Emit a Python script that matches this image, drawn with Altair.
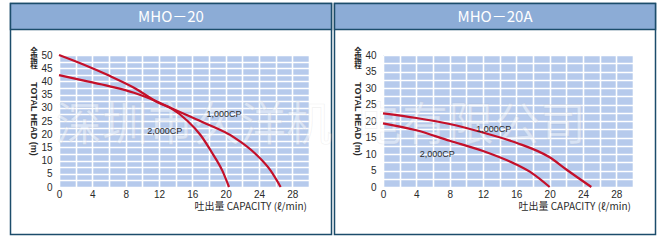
import altair as alt
import pandas as pd

# ---------------- data ----------------
panel_titles = ["MHO－20", "MHO－20A"]
x_title = "吐出量  CAPACITY (ℓ/min)"
y_title_cjk = "全\n揚\n程"
y_title_latin = "TOTAL HEAD (m)"

x_grid_values = list(range(0, 31, 2))
x_tick_labels = [0, 4, 8, 12, 16, 20, 24, 28]
y_max = [50, 40]

# MHO-20 curves
mho20_a_x = [0, 3, 6, 9, 12, 13.5, 15.4, 17.0, 18.4, 19.6, 20.4]
mho20_a_y = [50, 46.3, 42.2, 37.6, 31.8, 29.7, 25.1, 19.6, 12.8, 6.2, 0]
mho20_b_x = [0, 3, 6, 9, 12, 13.5, 17.2, 21.0, 23.6, 25.4, 26.6]
mho20_b_y = [42.4, 40.3, 38.2, 35.7, 32.0, 29.8, 24.6, 18.8, 12.5, 6.2, 0]
mho20_label_text = ["1,000CP", "2,000CP"]
mho20_label_x = [19.8, 12.7]
mho20_label_y = [27.7, 21.3]

# MHO-20A curves
mho20a_a_x = [0, 4, 8, 12, 16, 20, 22, 25.0]
mho20a_a_y = [22.3, 20.9, 19.1, 16.5, 13.4, 9.0, 5.3, 0]
mho20a_b_x = [0, 4, 8, 12, 16, 18, 20.0]
mho20a_b_y = [19.3, 17.2, 14.0, 10.9, 6.8, 4.0, 0]
mho20a_label_text = ["1,000CP", "2,000CP"]
mho20a_label_x = [13.3, 6.5]
mho20a_label_y = [17.6, 10.0]

watermark_parts = ["深圳市久洋机", "电有限公司"]

# ---------------- style ----------------
BORDER = "#1c4d6b"
HEADER = "#8cacd6"
CELL = "#b6caec"
RED = "#c4102a"
TXT = "#2a2a2a"
PW, PH = 250, 132
TICK_FONT = "Liberation Sans"


def panel(title, ax, ay, bx, by, lt, lx, ly, ymax, wm_text, wm_x):
    curves = pd.DataFrame({
        "capacity": ax + bx,
        "head": ay + by,
        "curve": ["a"] * len(ax) + ["b"] * len(bx),
    })
    labels = pd.DataFrame({"capacity": lx, "head": ly, "text": lt})
    one = pd.DataFrame({"k": [0]})

    y_grid_values = [i * 2.5 for i in range(int(ymax / 2.5) + 1)]
    xs = alt.Scale(domain=[0, 30], nice=False, zero=False)
    ys = alt.Scale(domain=[0, ymax], nice=False)
    x_axis = alt.Axis(
        values=x_grid_values,
        labelExpr=f"indexof({x_tick_labels}, datum.value) >= 0 ? datum.label : ''",
        format="d", grid=True, gridColor="white", gridWidth=1.6, gridOpacity=1,
        domain=False, ticks=False, title=None, labelFlush=False,
        labelFont=TICK_FONT, labelFontSize=10, labelColor=TXT,
        labelPadding=2, labelOverlap=False,
    )
    y_axis = alt.Axis(
        values=y_grid_values,
        labelExpr="datum.value % 5 == 0 ? datum.label : ''",
        format="d", grid=True, gridColor="white", gridWidth=1.6, gridOpacity=1,
        domain=False, ticks=False, title=None, labelFlush=False,
        labelFont=TICK_FONT, labelFontSize=10, labelColor=TXT,
        labelPadding=7, labelOverlap=False,
    )

    frame = alt.Chart(one).mark_rect(
        fill="white", fillOpacity=0, stroke=BORDER, strokeWidth=1.5
    ).encode(x=alt.value(-48.5), x2=alt.value(272.5), y=alt.value(-51.5), y2=alt.value(179.5))
    band = alt.Chart(one).mark_rect(
        fill=HEADER, stroke=BORDER, strokeWidth=1.5
    ).encode(x=alt.value(-48.5), x2=alt.value(272.5), y=alt.value(-51.5), y2=alt.value(-25.5))
    head_txt = alt.Chart(one).mark_text(
        color="white", fontSize=15, font="Noto Sans CJK JP", align="center", baseline="middle"
    ).encode(x=alt.value(112), y=alt.value(-38), text=alt.value(title))
    ycjk = alt.Chart(one).mark_text(
        color=TXT, fontSize=7.5, lineHeight=7, lineBreak="\n", font="Noto Sans CJK JP",
        fontWeight="bold", align="center", baseline="top"
    ).encode(x=alt.value(-25), y=alt.value(-7), text=alt.value(y_title_cjk))
    ylat = alt.Chart(one).mark_text(
        color=TXT, fontSize=9, font="Liberation Sans", fontWeight="bold", angle=90,
        align="center", baseline="middle"
    ).encode(x=alt.value(-25), y=alt.value(64), text=alt.value(y_title_latin))
    xt = alt.Chart(one).mark_text(
        color=TXT, fontSize=10, font="Noto Sans CJK JP", align="right", baseline="middle"
    ).encode(x=alt.value(248), y=alt.value(152), text=alt.value(x_title))
    wm = alt.Chart(one).mark_text(
        color="white", opacity=0.45, stroke="#9a9a9a", strokeWidth=0.7, strokeOpacity=0.3,
        fontSize=46, font="Noto Sans CJK SC", align="left", baseline="middle"
    ).encode(x=alt.value(wm_x), y=alt.value(71), text=alt.value(wm_text))

    lines = alt.Chart(curves).mark_line(
        color=RED, strokeWidth=2.2, interpolate="monotone"
    ).encode(
        x=alt.X("capacity:Q", scale=xs, axis=x_axis),
        y=alt.Y("head:Q", scale=ys, axis=y_axis),
        detail="curve:N",
    )
    lab = alt.Chart(labels).mark_text(
        color=TXT, fontSize=9, font="Liberation Sans", align="center", baseline="middle"
    ).encode(
        x=alt.X("capacity:Q", scale=xs, axis=x_axis),
        y=alt.Y("head:Q", scale=ys, axis=y_axis),
        text="text:N",
    )

    return alt.layer(frame, band, head_txt, ycjk, ylat, xt, wm, lines, lab).properties(
        width=PW, height=PH
    )


left = panel(panel_titles[0], mho20_a_x, mho20_a_y, mho20_b_x, mho20_b_y,
             mho20_label_text, mho20_label_x, mho20_label_y, y_max[0],
             watermark_parts[0], -3)
right = panel(panel_titles[1], mho20a_a_x, mho20a_a_y, mho20a_b_x, mho20a_b_y,
              mho20a_label_text, mho20a_label_x, mho20a_label_y, y_max[1],
              watermark_parts[1], -27)

chart = alt.hconcat(left, right, spacing=0).properties(
    padding={"left": 9, "top": 2, "right": 0, "bottom": 0},
    background="white",
).configure_view(fill=CELL, stroke=None)

chart.save("out.html", embed_options={"renderer": "svg", "actions": False})
